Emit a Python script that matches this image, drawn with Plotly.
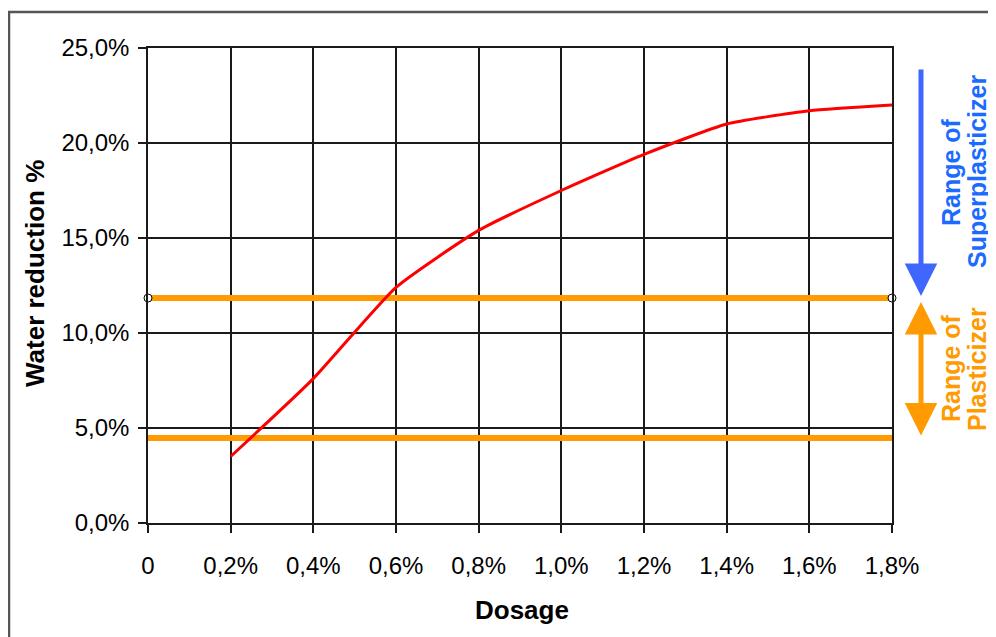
import plotly.graph_objects as go

# Data
dosage = [0.2, 0.4, 0.6, 0.8, 1.0, 1.2, 1.4, 1.6, 1.8]
water_reduction = [3.5, 7.6, 12.4, 15.4, 17.5, 19.4, 21.0, 21.7, 22.0]

plasticizer_upper = 11.84
plasticizer_lower = 4.47
band_x = [0.0, 1.8]

x_tickvals = [0, 0.2, 0.4, 0.6, 0.8, 1.0, 1.2, 1.4, 1.6, 1.8]
x_ticktext = ["0", "0,2%", "0,4%", "0,6%", "0,8%", "1,0%", "1,2%", "1,4%", "1,6%", "1,8%"]
y_tickvals = [0, 5, 10, 15, 20, 25]
y_ticktext = ["0,0%", "5,0%", "10,0%", "15,0%", "20,0%", "25,0%"]

superplasticizer_tip = 11.95
plasticizer_tip = 4.6

FONT = "Liberation Sans, Arial, sans-serif"
ORANGE = "#FF9A00"
BLUE_ARROW = "#3F66FF"
BLUE_TEXT = "#1C6BFF"

# plot area in screen pixels
PL, PR, PT, PB = 148, 892, 48, 523
PW, PH = PR - PL, PB - PT


def px(x):
    return (x - PL) / PW


def py(y):
    return (PB - y) / PH


fig = go.Figure()

fig.add_trace(go.Scatter(
    x=band_x, y=[plasticizer_upper] * 2, mode="lines+markers",
    line=dict(color=ORANGE, width=6),
    marker=dict(size=8, color="white", line=dict(color="black", width=1)),
    cliponaxis=False, hoverinfo="skip", showlegend=False))
fig.add_trace(go.Scatter(
    x=band_x, y=[plasticizer_lower] * 2, mode="lines",
    line=dict(color=ORANGE, width=6), hoverinfo="skip", showlegend=False))
fig.add_trace(go.Scatter(
    x=dosage, y=water_reduction, mode="lines",
    line=dict(color="#FF0000", width=3, shape="spline", smoothing=0.5),
    showlegend=False))

axis_common = dict(
    showgrid=True, gridcolor="#1a1a1a", gridwidth=1.5,
    showline=True, linecolor="#1a1a1a", linewidth=1.5, mirror=True,
    ticks="outside", ticklen=8, tickwidth=1.5, tickcolor="#1a1a1a",
    tickfont=dict(family=FONT, size=24, color="black"), zeroline=False,
)

fig.update_xaxes(range=[0, 1.8], tickvals=x_tickvals, ticktext=x_ticktext,
                 ticklabelstandoff=12, **axis_common)
fig.update_yaxes(range=[0, 25], tickvals=y_tickvals, ticktext=y_ticktext,
                 ticklabelstandoff=4, **axis_common)

x_arrow = px(921)


def label(text, x, y, color, size=26, angle=0):
    return dict(text=text, xref="paper", yref="paper", x=px(x), y=py(y),
                xanchor="center", yanchor="middle", textangle=angle,
                showarrow=False, font=dict(family=FONT, size=size, color=color))


annotations = [
    label("<b>Water reduction %</b>", 35, 274, "black", angle=-90),
    label("<b>Dosage</b>", 522, 610, "black"),
    label("<b>Range of</b>", 951, 172, BLUE_TEXT, size=25, angle=-90),
    label("<b>Superplasticizer</b>", 977, 172, BLUE_TEXT, size=25, angle=-90),
    label("<b>Range of</b>", 951, 368, ORANGE, size=25, angle=-90),
    label("<b>Plasticizer</b>", 977, 369, ORANGE, size=25, angle=-90),
    # Blue arrow
    dict(x=x_arrow, y=superplasticizer_tip, xref="paper", yref="y",
         axref="pixel", ayref="pixel", ax=0, ay=-228, text="", showarrow=True,
         arrowhead=2, arrowsize=1.3, arrowwidth=5, arrowcolor=BLUE_ARROW),
    # Orange double arrow
    dict(x=x_arrow, y=plasticizer_tip, xref="paper", yref="y",
         axref="pixel", ayref="pixel", ax=0, ay=-135, text="", showarrow=True,
         arrowhead=2, startarrowhead=2, arrowside="end+start",
         arrowsize=1.3, startarrowsize=1.3, arrowwidth=5, arrowcolor=ORANGE),
]

shapes = [
    dict(type="rect", xref="paper", yref="paper",
         x0=px(9), x1=px(1010), y0=py(660), y1=py(12),
         line=dict(color="#555555", width=2.5), fillcolor="rgba(0,0,0,0)", layer="below"),
]

# browser body margin of 8px offsets the figure
OFF = 8
fig.update_layout(
    width=996, height=637,
    margin=dict(l=PL - OFF, r=996 - (PR - OFF), t=PT - OFF, b=637 - (PB - OFF)),
    paper_bgcolor="white", plot_bgcolor="white",
    annotations=annotations, shapes=shapes,
    font=dict(family=FONT),
)

fig.write_html("out.html")
